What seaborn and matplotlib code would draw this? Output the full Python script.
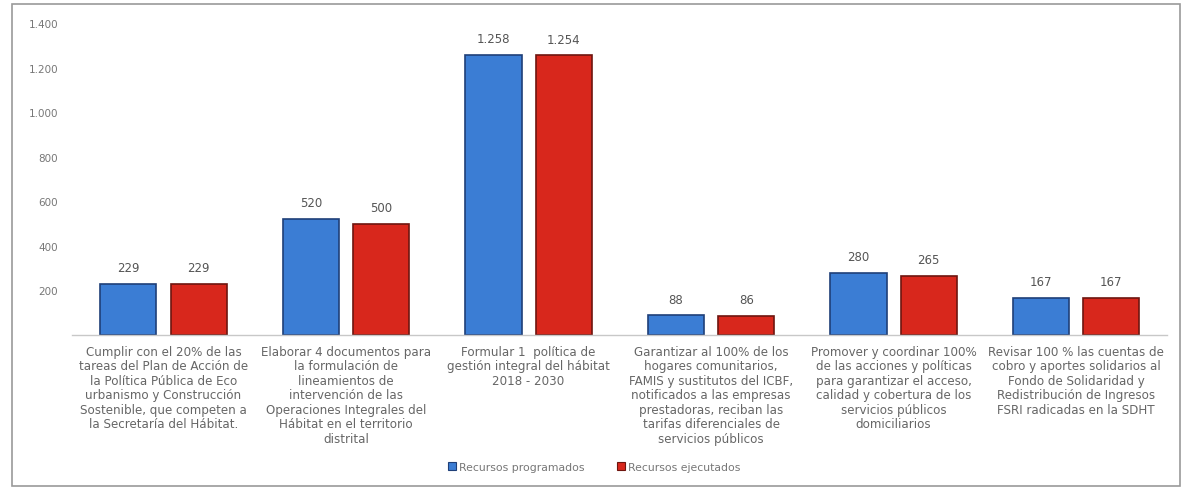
import matplotlib
matplotlib.use("Agg")
import matplotlib.pyplot as plt
import seaborn as sns
import pandas as pd
from matplotlib.patches import Rectangle

# Metas del plan y recursos asociados
metas = [
    "Cumplir con el 20% de las\ntareas del Plan de Acción de\nla Política Pública de Eco\nurbanismo y Construcción\nSostenible, que competen a\nla Secretaría del Hábitat.",
    "Elaborar 4 documentos para\nla formulación de\nlineamientos de\nintervención de las\nOperaciones Integrales del\nHábitat en el territorio\ndistrital",
    "Formular 1  política de\ngestión integral del hábitat\n2018 - 2030",
    "Garantizar al 100% de los\nhogares comunitarios,\nFAMIS y sustitutos del ICBF,\nnotificados a las empresas\nprestadoras, reciban las\ntarifas diferenciales de\nservicios públicos",
    "Promover y coordinar 100%\nde las acciones y políticas\npara garantizar el acceso,\ncalidad y cobertura de los\nservicios públicos\ndomiciliarios",
    "Revisar 100 % las cuentas de\ncobro y aportes solidarios al\nFondo de Solidaridad y\nRedistribución de Ingresos\nFSRI radicadas en la SDHT",
]
programados = [229, 520, 1258, 88, 280, 167]
ejecutados = [229, 500, 1254, 86, 265, 167]
series = ["Recursos programados", "Recursos ejecutados"]
y_ticks = [200, 400, 600, 800, 1000, 1200, 1400]

df = pd.DataFrame({
    "meta": metas * 2,
    "serie": [series[0]] * len(metas) + [series[1]] * len(metas),
    "valor": programados + ejecutados,
})

colores = {series[0]: "#3b7dd4", series[1]: "#d8271c"}
bordes = ["#1f3f78", "#6e150f"]

fig = plt.figure(figsize=(11.84, 4.89), dpi=100)
ax = fig.add_axes([0.061, 0.313, 0.925, 0.638])

sns.barplot(data=df, x="meta", y="valor", hue="serie", palette=colores,
            width=0.77, gap=0.2, ax=ax, legend=False, saturation=1)

for cont, ec in zip(ax.containers, bordes):
    for bar in cont:
        bar.set_edgecolor(ec)
        bar.set_linewidth(1.2)
    ax.bar_label(cont, labels=[f"{v:,.0f}".replace(",", ".") for v in cont.datavalues],
                 padding=7, fontsize=8.5, color="#555555")

ax.set_xlim(-0.5, len(metas) - 0.5)
ax.set_ylim(0, 1400)
ax.set_yticks(y_ticks)
ax.set_yticklabels([f"{v:,}".replace(",", ".") for v in y_ticks], fontsize=7.5, color="#777777")
ax.tick_params(axis="y", length=0, pad=10)
ax.tick_params(axis="x", length=0, pad=7)
ax.set_xticks(range(len(metas)))
ax.set_xticklabels(metas, fontsize=8.6, color="#666666", linespacing=1.15, va="top")
ax.set_xlabel("")
ax.set_ylabel("")
for side in ["top", "right", "left"]:
    ax.spines[side].set_visible(False)
ax.spines["bottom"].set_color("#c8c8c8")
ax.spines["bottom"].set_linewidth(1.0)
ax.grid(False)

handles = [Rectangle((0, 0), 1, 1, facecolor=colores[s], edgecolor=e, linewidth=0.8)
           for s, e in zip(series, bordes)]
fig.legend(handles, series, loc="center", bbox_to_anchor=(0.502, 0.043), ncol=2,
           frameon=False, fontsize=7.8, handlelength=0.7, handleheight=0.7,
           handletextpad=0.3, columnspacing=3.0, labelcolor="#777777")

# marco exterior del gráfico
fig.patches.append(Rectangle((0.010, 0.005), 0.987, 0.985, transform=fig.transFigure,
                             fill=False, edgecolor="#9a9a9a", linewidth=1.2))

fig.savefig("out.png", dpi=100, facecolor="white")
